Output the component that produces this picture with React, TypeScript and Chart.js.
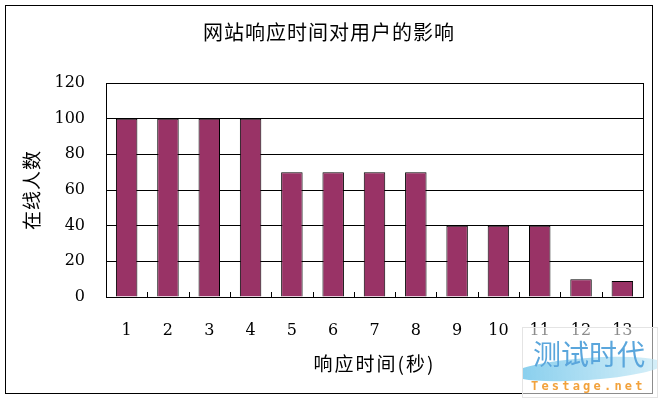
import React, { useEffect, useRef } from "react";
import { Chart, registerables } from "chart.js";

Chart.register(...registerables);

const categories = ["1", "2", "3", "4", "5", "6", "7", "8", "9", "10", "11", "12", "13"];
const onlineUsers = [100, 100, 100, 100, 70, 70, 70, 70, 40, 40, 40, 10, 9];
const yTicks = { min: 0, max: 120, step: 20 };
const titleText = "网站响应时间对用户的影响";
const yTitleText = "在线人数";
const xTitleText = "响应时间(秒)";

const CJK = '"Noto Sans CJK SC", "Noto Sans", sans-serif';
const NUM = '"DejaVu Serif", "Liberation Serif", serif';

const decor = {
  id: "decor",
  afterDraw(chart: any) {
    const { ctx, chartArea } = chart;
    const xs = chart.scales.x;
    ctx.save();
    ctx.strokeStyle = "#000";
    ctx.lineWidth = 1;
    ctx.strokeRect(5.5, 5.5, 647, 388);
    ctx.strokeRect(
      Math.round(chartArea.left) + 0.5,
      Math.round(chartArea.top) + 0.5,
      Math.round(chartArea.right - chartArea.left),
      Math.round(chartArea.bottom - chartArea.top)
    );
    const n = categories.length;
    const half = (xs.getPixelForValue(1) - xs.getPixelForValue(0)) / 2;
    for (let i = 0; i <= n; i++) {
      const x = Math.round(xs.getPixelForValue(i) - half) + 0.5;
      ctx.beginPath();
      ctx.moveTo(x, chartArea.bottom);
      ctx.lineTo(x, chartArea.bottom - 5);
      ctx.stroke();
    }
    ctx.fillStyle = "#000";
    ctx.textAlign = "center";
    ctx.textBaseline = "middle";
    ctx.font = `20px ${CJK}`;
    (ctx as any).letterSpacing = "1px";
    ctx.fillText(titleText, 329, 32);
    ctx.font = `19px ${CJK}`;
    (ctx as any).letterSpacing = "2px";
    ctx.fillText(xTitleText, (chartArea.left + chartArea.right) / 2, 364);
    ctx.font = `19px ${CJK}`;
    (ctx as any).letterSpacing = "1px";
    ctx.translate(31.5, (chartArea.top + chartArea.bottom) / 2);
    ctx.rotate(-Math.PI / 2);
    ctx.fillText(yTitleText, 0, 0);
    ctx.restore();
  },
};

export default function App() {
  const ref = useRef<HTMLCanvasElement | null>(null);
  useEffect(() => {
    if (!ref.current) return;
    const chart = new Chart(ref.current, {
      type: "bar",
      data: {
        labels: categories,
        datasets: [
          {
            data: onlineUsers,
            backgroundColor: "#993366",
            borderColor: "#000",
            borderWidth: 1,
            barPercentage: 0.52,
            categoryPercentage: 1,
          },
        ],
      },
      options: {
        responsive: false,
        animation: false,
        layout: { padding: { left: 0, top: 83, right: 16, bottom: 0 } },
        plugins: {
          legend: { display: false },
          title: { display: false },
          tooltip: { enabled: false },
        },
        scales: {
          x: {
            afterFit(scale: any) {
              scale.height = 102;
            },
            grid: { display: false, drawTicks: false },
            border: { display: true, color: "#000", width: 1 },
            ticks: {
              color: "#000",
              font: { family: NUM, size: 16 },
              padding: 24,
              maxRotation: 0,
              autoSkip: false,
            },
          },
          y: {
            min: yTicks.min,
            max: yTicks.max,
            afterFit(scale: any) {
              scale.width = 106;
            },
            grid: { color: "#000", lineWidth: 1, drawTicks: false },
            border: { display: true, color: "#000", width: 1 },
            ticks: {
              stepSize: yTicks.step,
              color: "#000",
              font: { family: NUM, size: 16 },
              padding: 21,
            },
          },
        },
      },
      plugins: [decor],
    });
    return () => chart.destroy();
  }, []);

  return (
    <div style={{ position: "fixed", left: 0, top: 0, width: 659, height: 399, background: "#fff", overflow: "hidden" }}>
      <canvas ref={ref} width={659} height={399} style={{ display: "block", width: 659, height: 399 }} />
      <div
        style={{
          position: "absolute",
          left: 522,
          top: 327,
          width: 134,
          height: 69,
          background: "rgba(255,255,255,0.55)",
          border: "1px solid #e4e4e4",
          overflow: "hidden",
        }}
      >
        <div
          style={{
            position: "absolute",
            left: -10,
            top: 30,
            width: 150,
            height: 22,
            borderRadius: "50%",
            background: "linear-gradient(90deg, rgba(120,200,235,0.9), rgba(190,230,245,0.6))",
            transform: "rotate(-4deg)",
          }}
        />
        <div
          style={{
            position: "absolute",
            left: 10,
            top: 10,
            width: 124,
            fontFamily: CJK,
            fontSize: 28,
            lineHeight: "30px",
            color: "#5aa6dc",
            letterSpacing: 0,
            whiteSpace: "nowrap",
          }}
        >
          测试时代
        </div>
        <div
          style={{
            position: "absolute",
            left: 8,
            top: 51,
            fontFamily: '"DejaVu Sans Mono", monospace',
            fontWeight: "bold",
            fontSize: 12,
            lineHeight: "14px",
            color: "#f2a23c",
            letterSpacing: "3.2px",
            whiteSpace: "nowrap",
          }}
        >
          Testage.net
        </div>
      </div>
    </div>
  );
}
